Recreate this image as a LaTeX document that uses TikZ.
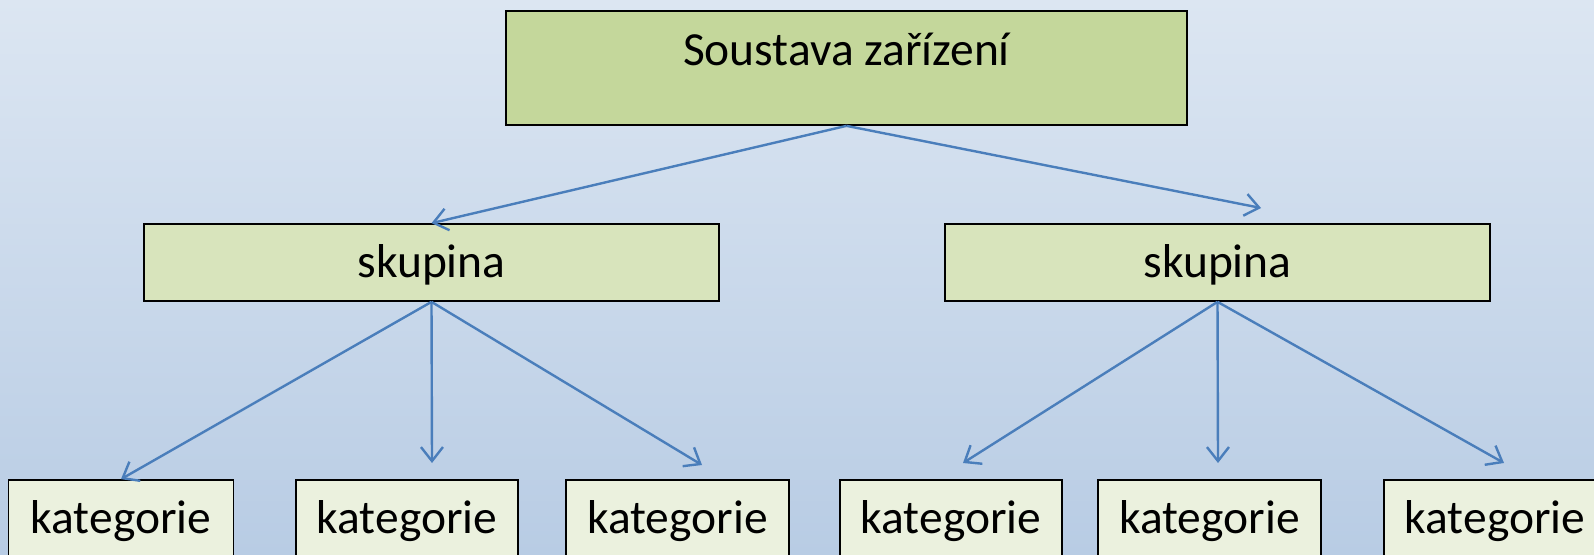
\documentclass[tikz,border=0pt]{standalone}
\usepackage{fontspec}
\setmainfont{Carlito}
\usetikzlibrary{arrows.meta}
\definecolor{bgtop}{RGB}{220,230,242}
\definecolor{bgbot}{RGB}{184,204,228}
\definecolor{topfill}{RGB}{196,215,155}
\definecolor{midfill}{RGB}{216,228,188}
\definecolor{lowfill}{RGB}{235,241,222}
\definecolor{arrowc}{RGB}{74,126,187}
\tikzset{
  box/.style={draw=black, line width=1.7pt, rectangle, inner sep=0pt,
    font=\fontsize{47.5}{57}\selectfont},
  topbox/.style={box, fill=topfill, minimum width=681pt, minimum height=114pt,
    text height=20pt, text depth=26pt},
  midbox/.style={box, fill=midfill, minimum width=575pt, minimum height=77pt,
    text height=35pt, text depth=6pt},
  lowbox/.style={box, fill=lowfill, minimum width=223pt, minimum height=100pt,
    text height=20pt, text depth=14pt},
  conn/.style={draw=arrowc, line width=2.4pt,
    -{Straight Barb[length=14pt, width=22pt, line width=2.4pt]}}
}
\begin{document}
\begin{tikzpicture}[x=1pt,y=-1pt]
\useasboundingbox (0,0) rectangle (1594,554);
\clip (0,0) rectangle (1594,554);
\shade[top color=bgtop, bottom color=bgbot] (0,0) rectangle (1594,554);

\node[topbox] (top) at (846.5,68) {Soustava zařízení};
\node[midbox] (skl) at (431.5,262.5) {skupina};
\node[midbox, minimum width=545pt] (skr) at (1217.5,262.5) {skupina};

\node[lowbox, minimum width=225pt] (k1) at (121,530) {kategorie};
\node[lowbox, minimum width=222pt] (k2) at (407,530) {kategorie};
\node[lowbox] (k3) at (677.5,530) {kategorie};
\node[lowbox, minimum width=222pt] (k4) at (951,530) {kategorie};
\node[lowbox] (k5) at (1209.5,530) {kategorie};
\node[lowbox, minimum width=222pt] (k6) at (1495,530) {kategorie};

\coordinate (er) at (1261,208);
\coordinate (e2) at (432,463);
\coordinate (e3) at (702,465);
\coordinate (e4) at (963,463);
\coordinate (e5) at (1218,463);
\coordinate (e6) at (1504,463);

\draw[conn] (top.south) -- (skl.north);
\draw[conn] (top.south) -- (er);
\draw[conn] (skl.south) -- (k1.north);
\draw[conn] (skl.south) -- (e2);
\draw[conn] (skl.south) -- (e3);
\draw[conn] (skr.south) -- (e4);
\draw[conn] (skr.south) -- (e5);
\draw[conn] (skr.south) -- (e6);
\end{tikzpicture}
\end{document}
